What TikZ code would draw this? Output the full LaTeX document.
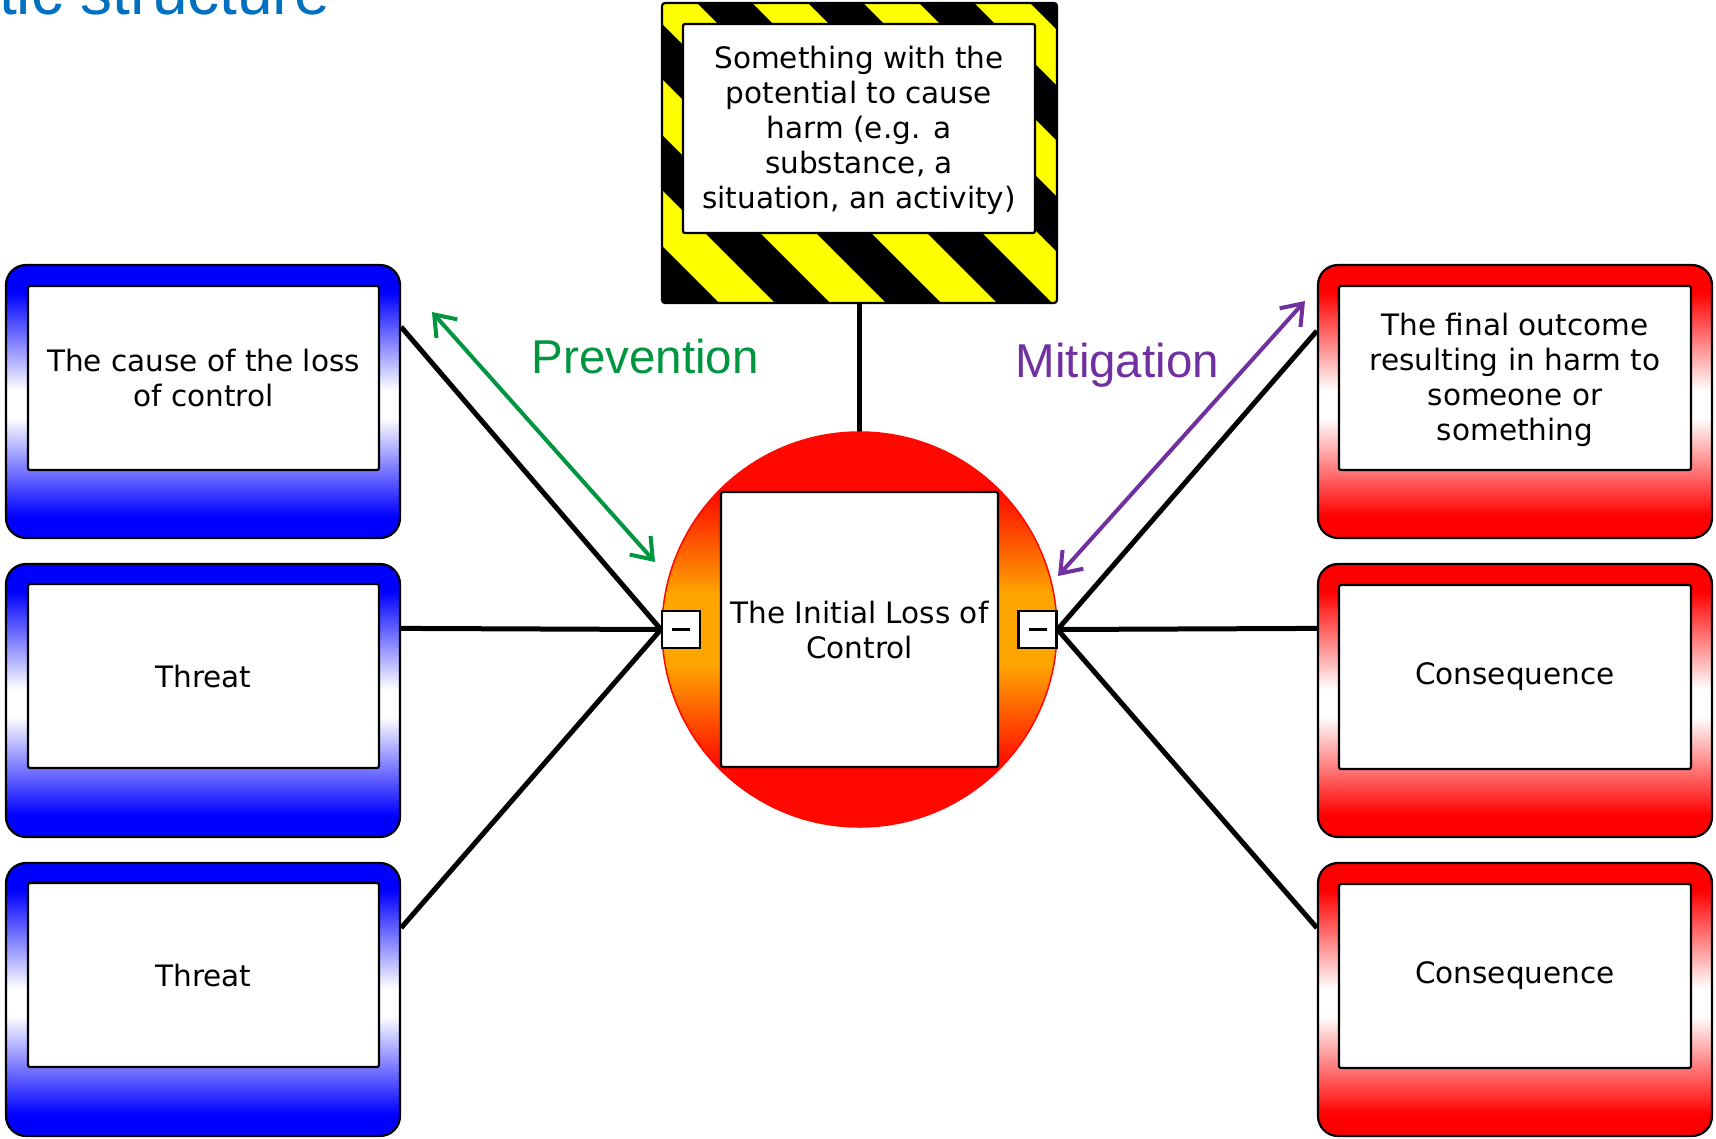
\documentclass[tikz,border=0pt]{standalone}
\usepackage{fontspec}
\setmainfont{DejaVu Sans}
\newfontfamily\headfont{Liberation Sans}
\usetikzlibrary{arrows.meta,calc}

\definecolor{titleblue}{RGB}{0,112,192}
\definecolor{prevgreen}{RGB}{0,150,64}
\definecolor{mitpurple}{RGB}{112,48,160}
\definecolor{hazyellow}{RGB}{255,255,0}
\definecolor{ballorange}{RGB}{255,165,0}
\definecolor{ballred}{RGB}{255,8,0}
\definecolor{threatblue}{RGB}{0,0,255}
\definecolor{conseqred}{RGB}{255,0,0}

% vertical colour ramps (the path covers 25bp..75bp of each ramp)
\pgfdeclareverticalshading{threatshade}{100bp}{color(0bp)=(threatblue); color(29bp)=(threatblue); color(47bp)=(white); color(52bp)=(white); color(70bp)=(threatblue); color(100bp)=(threatblue)}
\pgfdeclareverticalshading{conseqshade}{100bp}{color(0bp)=(conseqred); color(29bp)=(conseqred); color(47bp)=(white); color(52bp)=(white); color(70bp)=(conseqred); color(100bp)=(conseqred)}
\pgfdeclareverticalshading{ballshade}{100bp}{color(0bp)=(ballred); color(32.6bp)=(ballred); color(45.5bp)=(ballorange); color(54.5bp)=(ballorange); color(67.4bp)=(ballred); color(100bp)=(ballred)}

\newcommand\boxtext{\fontsize{29.5}{35}\selectfont}
\newcommand\labeltext{\headfont\fontsize{47.5}{55}\selectfont}
\newcommand\headtext{\headfont\fontsize{64}{70}\selectfont}
% taller first line, nudges a text block a little lower in its box
\newcommand\topstrut{\rule{0pt}{26.5pt}}

\tikzset{
  outerbox/.style={rectangle, rounded corners=20pt, draw=black, line width=2.2pt,
    minimum width=394pt, minimum height=273pt, inner sep=0pt, shade},
  threatbox/.style={outerbox, shading=threatshade},
  conseqbox/.style={outerbox, shading=conseqshade},
  textbox/.style={rectangle, rounded corners=2pt, draw=black, line width=2.2pt, fill=white,
    minimum width=351pt, minimum height=184pt, align=center, font=\boxtext, inner sep=0pt},
  gate/.style={rectangle, draw=black, fill=white, line width=2.2pt,
    minimum width=38pt, minimum height=37pt, inner sep=0pt},
  link/.style={line width=5pt, black},
  barrier/.style={line width=4pt,
    {Straight Barb[length=19pt,width=28pt]}-{Straight Barb[length=19pt,width=28pt]}},
  label/.style={anchor=base west, inner sep=0pt, font=\labeltext},
}

\begin{document}
\begin{tikzpicture}[x=1pt, y=-1pt]
  \useasboundingbox (0,0) rectangle (1716,1138);
  \fill[white] (0,0) rectangle (1716,1138);

  % heading
  \node[anchor=base west, inner sep=0pt, font=\headtext, text=titleblue] (title) at (-1,14) {tic structure};

  % hazard sign: yellow/black diagonal stripes
  \begin{scope}
    \clip[rounded corners=3pt] (662,3) rectangle (1057,303);
    \fill[hazyellow] (662,3) rectangle (1057,303);
    \foreach \k in {-3,...,4} {
      \pgfmathsetmacro\a{583+111*\k}
      \fill[black] (\a,0) -- (\a+55,0) -- (\a+365,310) -- (\a+310,310) -- cycle;
    }
  \end{scope}
  \node[rectangle, draw=black, line width=2.2pt, rounded corners=3pt,
        minimum width=395pt, minimum height=300pt, inner sep=0pt] (hazard) at (859.5,153) {};
  \node[textbox, minimum width=352pt, minimum height=209pt] (hazardtext) at (859,128.5)
    {\topstrut Something with the\\potential to cause\\harm (e.g. a\\substance, a\\situation, an activity)};

  % hazard to top event
  \draw[link] (hazard.south) -- (859.5,432) coordinate (balltop);

  % threats
  \node[threatbox] (threat1) at (203,401.5) {};
  \node[threatbox] (threat2) at (203,700.5) {};
  \node[threatbox] (threat3) at (203,999.5) {};
  \node[textbox] (threat1text) at (203.5,378) {The cause of the loss\\of control};
  \node[textbox] (threat2text) at (203.5,676) {Threat};
  \node[textbox] (threat3text) at (203.5,975) {Threat};

  % consequences
  \node[conseqbox] (conseq1) at (1515,401.5) {};
  \node[conseqbox] (conseq2) at (1515,700.5) {};
  \node[conseqbox] (conseq3) at (1515,999.5) {};
  \node[textbox, minimum width=352pt] (conseq1text) at (1515,378)
    {\topstrut The final outcome\\resulting in harm to\\someone or\\something};
  \node[textbox, minimum width=352pt] (conseq2text) at (1515,677) {Consequence};
  \node[textbox, minimum width=352pt] (conseq3text) at (1515,976) {Consequence};

  % top event
  \node[circle, minimum size=395pt, inner sep=0pt, draw=ballred, line width=1.5pt,
        shade, shading=ballshade] (ball) at (859.5,629.5) {};
  \node[rectangle, rounded corners=2pt, draw=black, line width=2.2pt, fill=white,
        minimum width=277pt, minimum height=275pt, inner sep=0pt, align=center,
        font=\boxtext] (topevent) at (859.5,629.5) {The Initial Loss of\\Control};

  % barrier gates
  \node[gate] (gateL) at (681,629.5) {\rule{18pt}{2.2pt}};
  \node[gate] (gateR) at (1037.5,629.5) {\rule{18pt}{2.2pt}};

  % connectors
  \draw[link] (gateL.west) -- ([yshift=-63pt]threat1.north east);
  \draw[link] (gateL.west) -- ([yshift=-65.5pt]threat2.north east);
  \draw[link] (gateL.west) -- ([yshift=-66pt]threat3.north east);
  \draw[link] (gateR.east) -- ([yshift=-67pt]conseq1.north west);
  \draw[link] (gateR.east) -- ([yshift=-65.5pt]conseq2.north west);
  \draw[link] (gateR.east) -- ([yshift=-66pt]conseq3.north west);

  % prevention / mitigation arrows
  \coordinate (prevA) at (432,312);
  \coordinate (prevB) at (655,562);
  \coordinate (mitA) at (1305,301);
  \coordinate (mitB) at (1058,576);
  \draw[barrier, prevgreen] (prevA) -- (prevB);
  \draw[barrier, mitpurple] (mitA) -- (mitB);
  \node[label, text=prevgreen] (prevlabel) at (531.5,373) {Prevention};
  \node[label, text=mitpurple] (mitlabel) at (1015.5,377) {Mitigation};
\end{tikzpicture}
\end{document}
